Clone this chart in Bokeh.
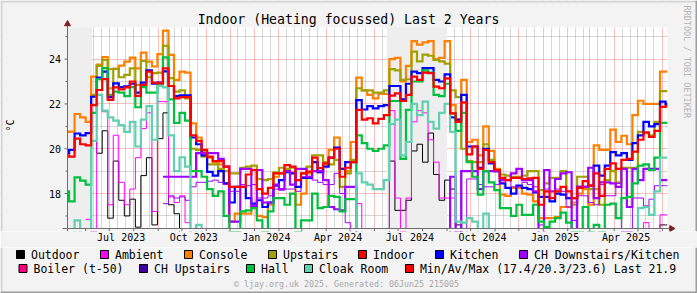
import math
from datetime import datetime, timedelta
import numpy as np
from bokeh.plotting import figure
from bokeh.models import (Range1d, FixedTicker, DatetimeTickFormatter, BoxAnnotation,
                          ColumnDataSource)
from bokeh.layouts import column
from bokeh.embed import file_html
from bokeh.resources import INLINE
from bokeh.core.properties import value

nan = float("nan")

# ---------------- data (weekly steps, week starts on Thursdays) ----------------
FIRST_WEEK = datetime(2023, 5, 4)
X_START = datetime(2023, 5, 9)
X_END = datetime(2025, 6, 7, 12)
Y_MIN, Y_MAX = 16.44, 25.41

indoor = [19.7, 19.65, 20.45, 20.2, 20.15, 21.95, 22.62, 23.11, 22.18, 22.74,
          22.65, 22.74, 23.0, 22.36, 22.85, 23.44, 22.95, 22.92, 23.59, 22.8,
          22.25, 22.3, 22.3, 20.6, 20.35, 19.95, 19.65, 19.45, 19.45, 19.2,
          18.3, 18.3, 18.3, 18.85, 19.05, 18.2, 18.0, 18.25, 18.9, 18.9,
          19.27, 19.2, 18.6, 18.9, 18.98, 19.6, 19.13, 19.35, 19.6, 20.0,
          18.75, 19.15, 19.4, 21.73, 21.3, 21.36, 21.13, 21.33, 21.5, 22.37,
          22.47, 22.13, 22.4, 23.22, 23.07, 23.4, 23.37, 22.77, 22.7, 23.14,
          21.58, 21.2, 22.07, 19.75, 20.1, 19.1, 19.95, 19.4, 19.05, 18.7,
          18.6, 18.7, 18.7, 18.65, 18.68, 18.7, 17.5, 18.1, 17.8, 18.1,
          18.3, 18.1, 17.8, 18.25, 18.55, 18.35, 18.9, 17.9, 19.1, 19.35,
          19.1, 19.5, 19.55, 19.87, 20.4, 20.73, 20.53, 20.8, 21.87, 21.9]

kitchen = [19.8, 19.95, 20.68, 20.6, 20.7, 22.32, 23.17, 23.44, 22.3, 22.92,
           22.75, 22.78, 22.9, 22.5, 22.95, 23.5, 22.9, 22.95, 23.45, 22.8,
           22.35, 22.38, 22.38, 20.5, 20.2, 19.7, 18.97, 18.8, 19.0, 18.45,
           17.6, 18.3, 18.3, 17.8, 17.55, 17.7, 17.4, 17.6, 18.35, 18.6,
           18.95, 18.9, 18.3, 18.7, 18.7, 19.4, 18.95, 19.2, 19.6, 20.05,
           19.1, 19.4, 19.4, 22.17, 21.75, 21.9, 21.8, 21.9, 21.95, 22.8,
           22.8, 22.2, 22.9, 23.44, 23.37, 23.6, 23.6, 23.07, 23.0, 23.32,
           21.4, 21.3, 22.4, 20.1, 20.1, 19.15, 20.0, 19.35, 19.0, 18.45,
           18.25, 18.0, 18.35, 18.25, 18.2, 18.05, 17.85, 17.85, 17.65, 18.0,
           17.95, 17.8, 17.8, 18.3, 18.3, 18.35, 19.25, 18.8, 19.25, 19.85,
           19.7, 19.8, 19.5, 20.25, 20.6, 21.2, 21.0, 21.1, 22.1, 22.0]

console = [20.75, 20.76, 21.55, 21.4, 21.2, 23.22, 23.75, 24.09, 23.55, 23.56,
           23.71, 23.89, 24.07, 23.59, 24.29, 23.89, 23.67, 24.22, 25.27, 24.19,
           23.07, 23.44, 23.4, 21.13, 20.5, 19.9, 19.6, 19.4, 19.3, 18.45,
           16.75, 17.1, 17.1, 17.1, 17.4, 17.0, 16.95, 17.5, 18.75, 18.9,
           19.0, 18.95, 17.5, 18.0, 18.9, 19.4, 18.95, 19.3, 19.95, 20.5,
           19.1, 19.0, 20.3, 23.17, 22.6, 22.4, 22.25, 22.45, 22.45, 24.0,
           24.05, 23.0, 23.7, 24.8, 24.65, 24.75, 24.8, 24.0, 24.05, 24.8,
           21.95, 21.3, 23.07, 20.3, 20.4, 19.7, 21.0, 19.9, 19.1, 17.95,
           17.9, 18.25, 18.25, 18.0, 17.95, 17.65, 16.9, 16.9, 16.9, 16.95,
           17.4, 17.4, 17.6, 18.0, 18.2, 17.5, 20.15, 19.95, 19.95, 20.85,
           20.3, 20.58, 20.2, 21.5, 22.14, 22.0, 22.0, 22.0, 23.44, 23.44]

upstairs = [nan, nan, nan, nan, nan, 22.4, 23.7, 23.96, 22.7, 23.56,
            23.19, 23.3, 23.59, 22.85, 23.92, 23.19, 23.37, 23.4, 24.59, 23.15,
            22.55, 22.6, 22.25, 20.0, 19.95, 19.65, 19.3, 19.3, 19.1, 19.0,
            18.9, 18.9, 19.15, 19.2, 19.25, 18.65, 18.6, 18.65, 18.95, 19.15,
            19.1, 19.15, 18.6, 18.9, 19.2, 19.7, 19.7, 19.4, 19.3, 19.5,
            18.3, 18.9, 19.5, 22.7, 22.6, 22.6, 22.5, 22.5, 22.6, 23.55,
            23.5, 23.07, 23.1, 24.33, 23.9, 24.2, 24.15, 23.96, 23.9, 23.8,
            22.6, 22.3, 20.0, 19.45, 19.4, 19.4, 20.2, 19.5, 19.0, 18.85,
            18.8, 18.75, 18.75, 18.8, 19.0, 19.0, 18.15, 18.45, 18.7, 18.7,
            19.0, 17.8, 17.5, 18.75, 18.75, 18.2, 18.2, 17.5, 18.6, 19.0,
            18.5, 19.15, 19.15, 19.15, 20.75, 20.7, 20.6, 21.2, 22.57, 22.57]

hall = [18.1, 17.65, 18.72, 18.58, 18.4, 21.6, 23.1, 23.6, 22.4, 22.55,
        22.5, 22.35, 22.75, 21.85, 22.75, 22.5, 22.5, 22.9, 24.08, 22.2,
        21.15, 21.6, 21.25, 19.0, 19.0, 18.75, 18.2, 17.9, 18.1, 17.0,
        16.3, 16.3, 17.2, 17.25, 17.35, 16.8, 16.3, 17.2, 17.8, 17.8,
        17.5, 18.0, 16.3, 16.8, 16.8, 18.0, 17.35, 17.4, 17.9, 17.85,
        17.2, 17.75, 17.75, 20.6, 20.25, 20.0, 19.9, 20.0, 20.15, 22.13,
        22.13, 19.55, 21.73, 23.0, 23.0, 23.5, 23.4, 22.4, 22.35, 22.9,
        21.58, 20.8, 21.6, 19.4, 18.75, 17.95, 19.0, 18.5, 18.15, 17.35,
        17.35, 17.0, 17.5, 17.05, 17.05, 17.5, 16.75, 16.5, 16.75, 16.9,
        17.15, 16.7, 16.3, 16.3, 17.4, 16.3, 16.6, 16.3, 17.5, 17.55,
        16.9, 17.8, 17.85, 18.45, 19.25, 19.3, 19.05, 19.6, 21.15, 21.15]

cloak_room = [16.0, 16.0, 16.8, 16.0, 16.0, 20.35, 22.4, 21.7, 21.4, 21.25,
              21.05, 20.75, 21.2, 20.1, 21.3, 21.9, 20.4, 22.8, 22.74, 20.6,
              19.0, 19.62, 19.2, 16.0, 16.6, 16.0, 16.0, 16.0, 16.0, 16.0,
              16.0, 16.0, 16.0, 16.0, 16.0, 16.0, 16.0, 16.0, 16.0, 16.0,
              16.0, 16.0, 16.0, 16.0, 16.0, 16.0, 16.0, 16.0, 16.0, 16.0,
              16.0, 16.0, 16.0, 18.9, 18.5, 18.4, 18.2, 18.2, 18.6, 21.1,
              21.3, 19.7, 20.3, 22.0, 21.5, 22.1, 21.2, 20.9, 21.6, 22.0,
              20.75, 16.75, 16.7, 16.9, 16.75, 16.0, 17.1, 16.4, 16.0, 16.0,
              16.0, 16.0, 16.0, 16.0, 16.0, 16.0, 16.0, 16.0, 16.0, 16.0,
              16.0, 16.0, 16.0, 16.0, 16.0, 16.0, 16.0, 16.0, 16.0, 16.0,
              16.0, 16.0, 16.0, 16.0, 17.35, 17.4, 17.05, 18.1, 19.6, 19.6]

outdoor = [nan, nan, nan, nan, nan, 20.35, 19.8, 20.8, 16.9, 19.45,
           17.7, 17.0, 17.75, 16.5, 18.8, 19.6, 16.6, 20.45, 21.6, 17.5,
           17.1, 16.0, 16.0, 16.0, 16.0, 16.0, 16.0, 16.0, 16.0, 16.0,
           16.0, 16.0, 16.0, 16.0, 16.0, 16.0, 16.0, 16.0, 16.0, 16.0,
           16.0, 16.0, 16.0, 16.0, 16.0, 16.0, 16.0, 16.0, 16.0, 16.0,
           16.0, 16.0, 16.0, 16.0, 16.0, 16.0, 16.0, 16.0, 16.0, 19.45,
           17.25, 17.25, 17.7, 19.9, 20.2, 19.4, 20.7, 18.85, 17.7, 18.6,
           18.2, 16.6, 16.0, 16.0, 16.0, 16.0, 16.0, 16.0, 16.0, 16.0,
           16.0, 16.0, 16.0, 16.0, 16.0, 16.0, 16.0, 16.0, 16.0, 16.0,
           16.0, 16.0, 16.0, 16.0, 16.0, 16.0, 16.0, 16.0, 16.0, 16.0,
           16.0, 16.0, 16.0, 16.0, 16.0, 16.0, 16.0, 16.0, 16.6, 16.6]

ambient = [nan, nan, nan, nan, 16.85, 16.3, 22.4, 21.65, 17.5, 20.6,
           18.5, 17.5, 18.2, 19.6, 20.9, 21.6, 17.2, 22.1, 22.1, 17.85,
           17.6, 17.9, 16.7, 16.0, 16.0, 16.0, 16.0, 16.0, 16.0, 16.0,
           16.0, 16.0, 16.0, 16.0, 16.0, 16.0, 16.0, 16.0, 16.0, 16.0,
           16.0, 16.0, 16.0, 16.0, 16.0, 16.0, 16.0, 16.0, 16.0, 16.0,
           16.0, 16.0, 16.0, 17.55, 16.0, 16.0, 16.0, 16.0, 16.0, 21.7,
           17.8, 16.3, 17.8, 21.2, 21.7, 21.6, 20.4, 19.4, 17.8, 17.8,
           17.8, 16.3, 16.0, 16.0, 16.0, 16.0, 16.0, 16.0, 16.0, 16.0,
           16.0, 16.0, 16.0, 16.0, 16.0, 16.0, 16.0, 16.0, 16.0, 16.0,
           16.0, 16.0, 16.0, 16.0, 16.0, 16.0, 16.0, 16.0, 16.0, 16.0,
           16.0, 16.0, 16.0, 16.0, 16.0, 16.7, 16.0, 16.0, 17.05, 17.05]

ch_downstairs = [nan, nan, nan, nan, nan, nan, nan, nan, nan, nan,
                 nan, nan, nan, nan, nan, nan, nan, nan, 18.75, 18.75,
                 18.75, 18.75, 18.75, 18.75, 19.8, 19.8, 19.8, 19.8, 19.55, 19.2,
                 16.75, 16.75, 19.1, 19.1, 17.45, 19.05, 17.6, 17.6, 18.4, 18.2,
                 19.0, 18.4, 19.1, 19.1, 18.75, 19.0, 19.0, 18.6, 17.4, 17.3,
                 17.25, 18.3, 18.3, 16.0, 16.0, 16.0, 16.0, 16.0, 16.0, 16.0,
                 16.0, 16.0, 16.0, 16.0, 16.0, 16.0, 16.0, 16.0, 16.0, 16.0,
                 18.75, 16.0, 19.0, 19.0, 19.0, 18.2, 19.0, 19.0, 19.0, 18.6,
                 18.6, 18.9, 19.1, 18.6, 18.6, 18.1, 16.0, 19.05, 18.1, 18.65,
                 18.9, 18.95, 16.4, 18.3, 18.3, 19.15, 17.8, 18.5, 18.5, 18.45,
                 18.3, 19.1, 17.4, 19.1, 18.6, 19.1, 19.1, 19.1, 18.6, 18.6]

ch_thin = [nan, nan, nan, nan, nan, nan, nan, nan, nan, nan,
           nan, nan, nan, nan, nan, nan, nan, nan, 17.55, 17.9,
           17.8, 17.85, 17.7, 18.3, 18.5, 18.5, 18.55, 18.6, 18.5, 18.4,
           18.1, 18.1, 18.4, 18.35, 18.4, 17.8, 17.8, 17.9, 18.2, 18.15,
           18.2, 18.2, 18.1, 18.75, 18.75, 18.6, 18.5, 18.4, 18.4, 18.9,
           18.0, 16.7, 16.0, 16.0, 16.0, 16.0, 16.0, 16.0, 16.0, 16.0,
           16.0, 16.0, 16.0, 16.0, 16.0, 16.0, 16.0, 16.0, 16.0, 16.0,
           16.0, 16.0, 16.0, 18.65, 18.65, 18.4, 18.3, 18.3, 18.4, 18.5,
           18.6, 18.3, 18.3, 18.5, 18.4, 18.3, 16.6, 18.2, 17.8, 18.2,
           18.1, 17.4, 16.8, 17.9, 17.9, 17.6, 17.5, 18.4, 17.9, 17.9,
           18.45, 16.3, 16.3, 17.8, 17.8, 17.45, 17.75, 18.35, 18.35, 18.35]

band_starts = [datetime(2023, 5, 9), datetime(2024, 6, 17)]
band_ends = [datetime(2023, 6, 9), datetime(2024, 9, 1)]

label_ticks = [datetime(2023, 7, 16), datetime(2023, 10, 16), datetime(2024, 1, 16),
               datetime(2024, 4, 16), datetime(2024, 7, 16), datetime(2024, 10, 16),
               datetime(2025, 1, 16), datetime(2025, 4, 16)]
y_major = [18, 20, 22, 24]
y_minor = [17, 19, 21, 23, 25]

legend_row1 = ["Outdoor", "Ambient", "Console", "Upstairs", "Indoor", "Kitchen",
               "CH Downstairs/Kitchen"]
legend_row1_colors = ["#000000", "#FF00FF", "#FF8000", "#A0A000", "#FF0000", "#0000FF", "#A000FF"]
legend_row2 = ["Boiler (t-50)", "CH Upstairs", "Hall", "Cloak Room",
               "Min/Av/Max (17.4/20.3/23.6) Last 21.9"]
legend_row2_colors = ["#FF0080", "#4000A0", "#00C040", "#60D0B0", "#FF0000"]

TITLE = "Indoor (Heating focussed) Last 2 Years"
FOOTER = "\u00a9 ljay.org.uk  2025. Generated: 06Jun25 215005"
WATERMARK = "RRDTOOL / TOBI OETIKER"
Y_UNIT = "\u00b0C"

# ---------------- layout helpers ----------------
EPOCH = datetime(1970, 1, 1)


def ms(d):
    return (d - EPOCH).total_seconds() * 1000.0


W, H_MAIN, H_LEG = 697, 247, 46
DL, DR, DT, DB = 67, 667, 27, 228      # rrdtool data area in page pixels
FB = 231                               # frame bottom (x labels below)
BG = "#F3F3F3"
AXIS = "#6E6E6E"
ARROW = "#7F1F1F"
SHADE_A, SHADE_B = "#D4D4D4", "#9E9E9E"
MONO = "DejaVu Sans Mono"

MS_PER_PX = (ms(X_END) - ms(X_START)) / (DR - DL)
PX_PER_DEG = (DB - DT) / (Y_MAX - Y_MIN)
XR0, XR1 = ms(X_START) - DL * MS_PER_PX, ms(X_START) + (W - DL) * MS_PER_PX
YR0, YR1 = Y_MIN - (FB - DB) / PX_PER_DEG, Y_MAX + DT / PX_PER_DEG


def sx(px):
    return ms(X_START) + (px - DL) * MS_PER_PX


def sy(py):
    return Y_MIN + (DB - py) / PX_PER_DEG


month_starts = []
y, m = 2023, 6
while (y, m) <= (2025, 6):
    month_starts.append(ms(datetime(y, m, 1)))
    m += 1
    if m > 12:
        y, m = y + 1, 1
dekads = []
y, m = 2023, 5
while (y, m) <= (2025, 6):
    for d in (11, 21):
        dekads.append(ms(datetime(y, m, d)))
    m += 1
    if m > 12:
        y, m = y + 1, 1

p = figure(width=W, height=H_MAIN, x_axis_type="datetime", y_axis_location=None,
           x_range=Range1d(XR0, XR1), y_range=Range1d(YR0, YR1),
           output_backend="svg", toolbar_location=None,
           min_border_left=0, min_border_right=0, min_border_top=0,
           min_border_bottom=H_MAIN - FB,
           background_fill_color="#FFFFFF", border_fill_color=BG, outline_line_color=None)

for s, e in zip(band_starts, band_ends):
    p.add_layout(BoxAnnotation(left=ms(s), right=ms(e), fill_color="#EEEEEE",
                               fill_alpha=1.0, line_color=None, level="underlay"))

# grids
p.xgrid.ticker = FixedTicker(ticks=month_starts, minor_ticks=dekads)
p.ygrid.ticker = FixedTicker(ticks=y_major, minor_ticks=y_minor)
for g in (p.xgrid, p.ygrid):
    g.grid_line_color = "#FF0000"
    g.grid_line_alpha = 0.5
    g.grid_line_dash = "1 1"
    g.minor_grid_line_color = "#9A9A9A"
    g.minor_grid_line_alpha = 0.8
    g.minor_grid_line_dash = "1 1"

# x axis (labels only; line and ticks are drawn below as glyphs)
p.xaxis.ticker = FixedTicker(ticks=[ms(d) for d in label_ticks])
p.xaxis.formatter = DatetimeTickFormatter(days="%b %Y", months="%b %Y", years="%b %Y",
                                          hours="%b %Y", hourmin="%b %Y")
p.xaxis.major_tick_out = 0
p.xaxis.major_tick_in = 0
p.xaxis.minor_tick_out = 0
p.xaxis.minor_tick_in = 0
p.xaxis.major_tick_line_color = None
p.xaxis.minor_tick_line_color = None
p.xaxis.axis_line_color = None
p.xaxis.major_label_standoff = 0
p.xaxis.major_label_text_font = MONO
p.xaxis.major_label_text_font_size = "10px"
p.xaxis.major_label_text_color = "#000000"

# series
edges = [ms(FIRST_WEEK + timedelta(days=7 * i)) for i in range(len(indoor))] + [ms(X_END)]


def draw(vals, color, width):
    ys = list(vals) + [vals[-1]]
    first = next(i for i, v in enumerate(ys) if not math.isnan(v))
    src = ColumnDataSource(dict(x=np.array(edges[first:], dtype=float),
                                y=np.array(ys[first:], dtype=float)))
    p.step("x", "y", source=src, mode="after", line_color=color, line_width=width,
           line_join="miter", line_cap="butt")


THICK = 2.2
draw(outdoor, "#000000", 1)
draw(ambient, "#FF00FF", 1)
draw(console, "#FF8000", THICK)
draw(upstairs, "#A0A000", THICK)
draw(kitchen, "#0000FF", THICK)
draw(ch_downstairs, "#A000FF", THICK)
draw(ch_thin, "#A000FF", 1)
draw(hall, "#00C040", THICK)
draw(cloak_room, "#60D0B0", THICK)
draw(indoor, "#FF0000", THICK)

# masks: keep the drawing area to the rrdtool canvas
p.quad(left=[XR0, ms(X_END), XR0, XR0], right=[ms(X_START), XR1, XR1, XR1],
       bottom=[YR0, YR0, Y_MAX, YR0], top=[YR1, YR1, YR1, Y_MIN],
       fill_color=BG, line_color=None)

# image border shading (top/left light, right dark)
p.segment(x0=[XR0, sx(1)], y0=[sy(1), YR0], x1=[XR1, sx(1)], y1=[sy(1), YR1],
          line_color=SHADE_A, line_width=2)
p.segment(x0=[sx(696)], y0=[YR0], x1=[sx(696)], y1=[YR1], line_color=SHADE_B, line_width=2)

# y axis: line, ticks, labels, unit
p.segment(x0=[sx(DL)], y0=[sy(FB)], x1=[sx(DL)], y1=[sy(22)], line_color=AXIS, line_width=1)
p.segment(x0=[sx(DL - 3)] * len(y_major), y0=y_major, x1=[sx(DL)] * len(y_major), y1=y_major,
          line_color=AXIS, line_width=1)
p.segment(x0=[sx(DL - 2)] * len(y_minor), y0=y_minor, x1=[sx(DL)] * len(y_minor), y1=y_minor,
          line_color=AXIS, line_width=1)
p.text(x=[sx(60.5)] * len(y_major), y=y_major, text=[str(v) for v in y_major],
       text_font=value(MONO), text_font_size="10px", text_align="right",
       text_baseline="middle", text_color="#000000")
p.text(x=[sx(9.5)], y=[sy(125)], text=[Y_UNIT], angle=math.pi / 2,
       text_font=value(MONO), text_font_size="10px", text_align="center",
       text_baseline="middle", text_color="#000000")

# x axis line, month ticks
p.segment(x0=[sx(62)], y0=[Y_MIN], x1=[sx(670)], y1=[Y_MIN], line_color=AXIS, line_width=1)
p.segment(x0=month_starts, y0=[Y_MIN] * len(month_starts), x1=month_starts,
          y1=[Y_MIN - 2.5 / PX_PER_DEG] * len(month_starts), line_color=AXIS, line_width=1)

# arrow heads
p.scatter(x=[sx(671)], y=[Y_MIN], marker="triangle", size=6, angle=-math.pi / 2,
          fill_color=ARROW, line_color=ARROW)
p.scatter(x=[sx(DL)], y=[sy(23.5)], marker="triangle", size=6,
          fill_color=ARROW, line_color=ARROW)

# title and watermark
p.text(x=[sx(348)], y=[sy(19)], text=[TITLE], text_font=value(MONO), text_font_size="13.2px",
       text_align="center", text_baseline="middle", text_color="#000000")
p.text(x=[sx(686.5)], y=[sy(5)], text=[WATERMARK], angle=-math.pi / 2,
       text_font=value(MONO), text_font_size="8.5px", text_align="left",
       text_baseline="middle", text_color="#B4B4B4")

# ---------------- legend strip ----------------
q = figure(width=W, height=H_LEG, x_range=Range1d(0, W), y_range=Range1d(H_MAIN + H_LEG, H_MAIN),
           output_backend="svg", toolbar_location=None,
           x_axis_location=None, y_axis_location=None,
           min_border_left=0, min_border_right=0, min_border_top=0, min_border_bottom=0,
           background_fill_color=BG, border_fill_color=BG, outline_line_color=None)
q.grid.visible = False

row1_box = [16, 100, 184, 268, 358, 435, 519]
row2_box = [18.5, 139, 246, 304, 405]
bx = [b + 4 for b in row1_box] + [b + 4 for b in row2_box]
by = [254] * len(row1_box) + [268] * len(row2_box)
q.rect(x=bx, y=by, width=8, height=8, fill_color=legend_row1_colors + legend_row2_colors,
       line_color="#000000", line_width=1)
tx = [b + 14.5 for b in row1_box] + [b + 14.5 for b in row2_box]
q.text(x=tx, y=by, text=legend_row1 + legend_row2, text_font=value(MONO),
       text_font_size="11.5px", text_baseline="middle", text_align="left", text_color="#000000")
q.text(x=[348.5], y=[283], text=[FOOTER], text_font=value(MONO), text_font_size="8.3px",
       text_baseline="middle", text_align="center", text_color="#A8A8A8")
q.segment(x0=[1], y0=[H_MAIN], x1=[1], y1=[H_MAIN + H_LEG], line_color=SHADE_A, line_width=2)
q.segment(x0=[0], y0=[292], x1=[W], y1=[292], line_color=SHADE_B, line_width=2)
q.segment(x0=[696], y0=[H_MAIN], x1=[696], y1=[H_MAIN + H_LEG], line_color=SHADE_B,
          line_width=2)

layout = column(p, q, spacing=0)
open("out.html", "w").write(file_html(layout, INLINE))
